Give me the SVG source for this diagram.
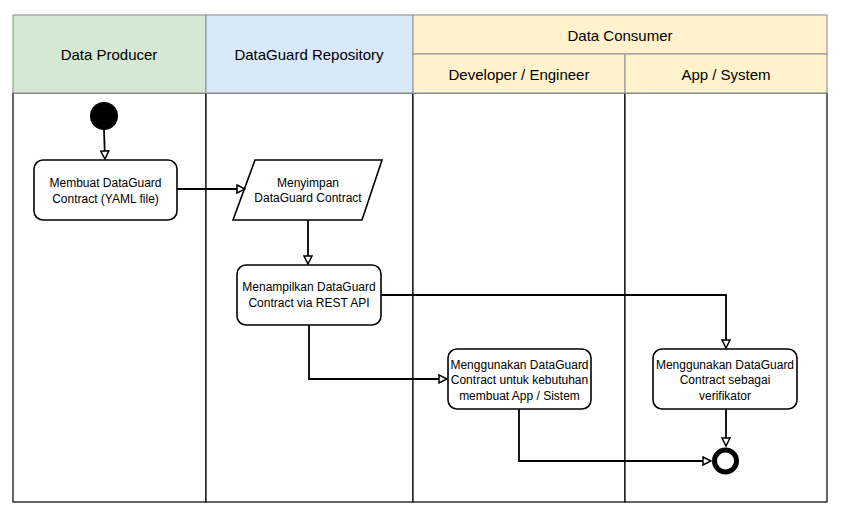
<svg xmlns="http://www.w3.org/2000/svg" width="844" height="518" viewBox="0 0 844 518">
<style>
.hdr{font-family:"Liberation Sans",Arial,sans-serif;font-size:15px;fill:#000;text-anchor:middle;dominant-baseline:central}
.t{font-family:"Liberation Sans",Arial,sans-serif;font-size:12px;fill:#000;text-anchor:middle}
.box{fill:#fff;stroke:#000;stroke-width:1.6}
.lane{fill:#fff;stroke:#000;stroke-width:1.2}
.hd{stroke:#999;stroke-width:1.2}
.c{fill:none;stroke:#000;stroke-width:1.8;marker-end:url(#ah)}
</style>
<defs>
<marker id="ah" viewBox="0 0 10 10" refX="9" refY="5" markerWidth="10" markerHeight="10" markerUnits="userSpaceOnUse" orient="auto">
<path d="M1,1 L9,5 L1,9 Z" fill="#fff" stroke="#000" stroke-width="1.5"/>
</marker>
</defs>
<rect width="844" height="518" fill="#fff"/>
<g id="lanes">
<rect class="lane" x="13" y="93" width="193" height="409"/>
<rect class="lane" x="206" y="93" width="207" height="409"/>
<rect class="lane" x="413" y="93" width="212" height="409"/>
<rect class="lane" x="625" y="93" width="202" height="409"/>
<rect x="13" y="15" width="193" height="78" fill="#d5e8d4" class="hd"/>
<rect x="206" y="15" width="207" height="78" fill="#dae8fc" class="hd"/>
<rect x="413" y="15" width="414" height="39" fill="#fff2cc" class="hd"/>
<rect x="413" y="54" width="212" height="39" fill="#fff2cc" class="hd"/>
<rect x="625" y="54" width="202" height="39" fill="#fff2cc" class="hd"/>
<text class="hdr" x="109" y="54">Data Producer</text>
<text class="hdr" x="309" y="54">DataGuard Repository</text>
<text class="hdr" x="620" y="35">Data Consumer</text>
<text class="hdr" x="519" y="74">Developer / Engineer</text>
<text class="hdr" x="726" y="74">App / System</text>
</g>
<g id="start"><circle cx="104" cy="116" r="14" fill="#000"/></g>
<g id="n1"><rect class="box" x="34" y="160" width="143" height="60" rx="9"/>
<text class="t" x="105.5" y="187">Membuat DataGuard</text><text class="t" x="105.5" y="203">Contract (YAML file)</text></g>
<g id="n2"><polygon class="box" points="255,160 382,160 362,220 233,220"/>
<text class="t" x="308" y="187">Menyimpan</text><text class="t" x="308" y="202">DataGuard Contract</text></g>
<g id="n3"><rect class="box" x="237" y="265" width="144" height="60" rx="9"/>
<text class="t" x="309" y="291">Menampilkan DataGuard</text><text class="t" x="309" y="307">Contract via REST API</text></g>
<g id="n4"><rect class="box" x="448" y="349" width="143" height="60" rx="9"/>
<text class="t" x="519.5" y="369">Menggunakan DataGuard</text><text class="t" x="519.5" y="384">Contract untuk kebutuhan</text><text class="t" x="519.5" y="400">membuat App / Sistem</text></g>
<g id="n5"><rect class="box" x="653" y="349" width="144" height="60" rx="9"/>
<text class="t" x="725" y="369">Menggunakan DataGuard</text><text class="t" x="725" y="384">Contract sebagai</text><text class="t" x="725" y="400">verifikator</text></g>
<g id="end"><circle cx="725.5" cy="461" r="11" fill="#fff" stroke="#000" stroke-width="5"/></g>
<g id="connectors">
<path class="c" d="M104,130 L105,159"/>
<path class="c" d="M177,189 L245,189"/>
<path class="c" d="M308,220 L308,264"/>
<path class="c" d="M309,325 L309,379 L447,379"/>
<path class="c" d="M381,295 L726,295 L726,348"/>
<path class="c" d="M726,409 L726,446"/>
<path class="c" d="M519,409 L519,461 L711,461"/>
</g>
</svg>
